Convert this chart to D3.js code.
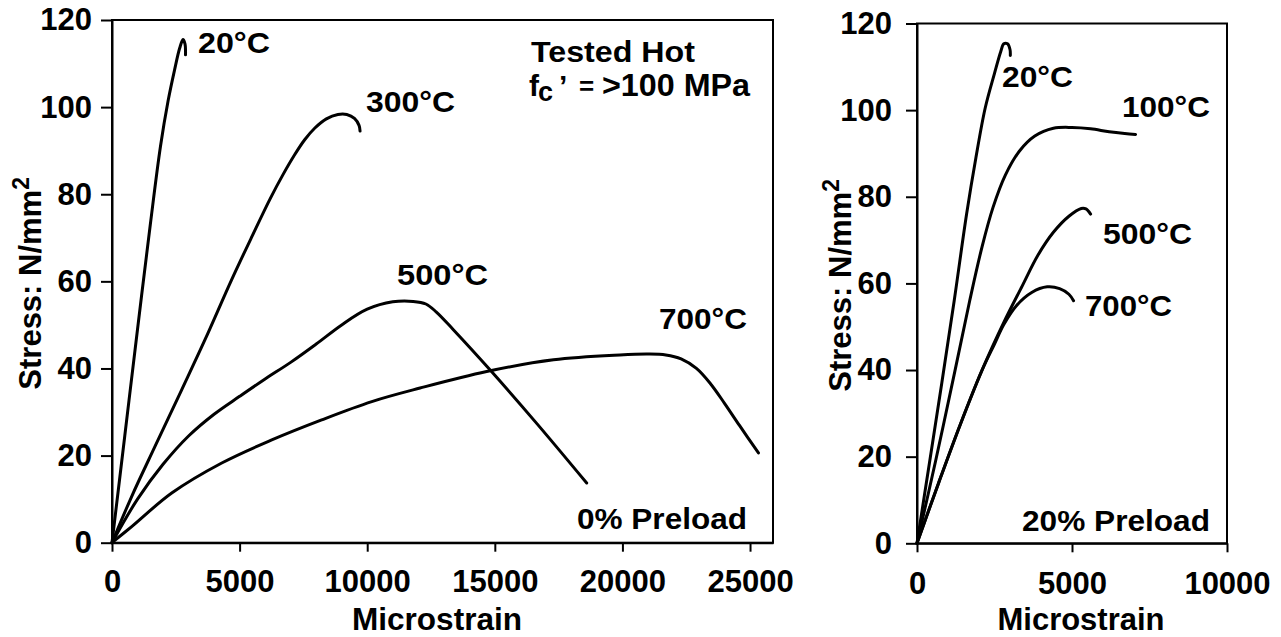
<!DOCTYPE html>
<html>
<head>
<meta charset="utf-8">
<script src="https://cdn.jsdelivr.net/npm/d3@7"></script>
<style>
  body { margin: 0; background: #fff; }
  svg { display: block; }
  text { font-family: "Liberation Sans", Arial, sans-serif; font-weight: bold; fill: #000; }
</style>
</head>
<body>
<svg id="chart" width="1281" height="637"></svg>
<script>
// ---------- data ----------
const yTicks = [0, 20, 40, 60, 80, 100, 120];
const xTicksLeft = [0, 5000, 10000, 15000, 20000, 25000];
const xTicksRight = [0, 5000, 10000];
const xLabel = "Microstrain";
const yLabel = "Stress: N/mm";
const yLabelSup = "2";

// 0% preload, tested hot (microstrain, stress N/mm²)
const left20C = [[0,0],[500,24.5],[1000,49],[1500,73],[1900,91],[2200,101.5],[2450,108.5],[2650,113.5],[2780,115.5],[2860,114.5],[2880,112]];
const left300C = [[0,0],[770,10.6],[1685,22.1],[2730,35.1],[3644,46.6],[4690,60.4],[5500,70.5],[6200,79],[6700,84.5],[7150,89],[7550,92.5],[7950,95.2],[8400,97.3],[8850,98.3],[9200,98.3],[9500,97.4],[9680,95.8],[9720,94.5]];
const left500C = [[0,0],[1000,10],[2000,18],[3000,24.5],[4000,29.5],[5000,33.6],[6000,37.6],[7000,41.4],[8000,45.6],[9000,50],[10000,53.6],[11000,55.3],[11800,55.4],[12300,54.8],[12700,53],[13375,48.9],[14810,39.7],[16640,27.4],[18600,13.7]];
const left700C = [[0,0],[772,3.7],[2340,11.4],[4300,18.3],[6260,23.6],[8215,28.2],[10180,32.4],[12070,35.5],[14680,39.3],[17300,42.0],[19900,43.1],[21000,43.3],[21700,43.1],[22300,42.2],[22900,40],[23450,36.5],[24000,32],[24600,26.8],[25330,20.6]];

// 20% preload
const right20C = [[0,0],[400,18.5],[800,37],[1200,56],[1600,76],[1900,89],[2200,100.5],[2500,108.5],[2700,113.5],[2800,115.3],[2920,115.3],[3000,114],[3010,112.6]];
const right100C = [[0,0],[600,19],[1200,39],[1700,56],[2100,68.5],[2450,77.5],[2850,85],[3300,90.5],[3800,94],[4400,95.8],[5000,96],[5600,95.7],[6200,95],[6700,94.6],[7050,94.4]];
const right500C = [[0,0],[700,14],[1400,27.5],[2100,40],[2800,51],[3400,59.5],[3900,66.5],[4400,71.8],[4900,75.5],[5300,77.3],[5450,77.2],[5600,76]];
const right700C = [[0,0],[700,14],[1400,27.5],[2100,40],[2500,46],[2800,50.5],[3200,54.8],[3700,57.9],[4200,59.2],[4600,58.8],[4900,57.5],[5050,56]];

const leftCurveLabels = ["20°C", "300°C", "500°C", "700°C"];
const rightCurveLabels = ["20°C", "100°C", "500°C", "700°C"];
const leftNote = "0% Preload";
const rightNote = "20% Preload";
const titleLine1 = "Tested Hot";

// ---------- drawing ----------
const svg = d3.select("#chart");
const line = d3.line().curve(d3.curveCatmullRom.alpha(0.5));

function panel(opt) {
  const x = d3.scaleLinear().domain(opt.xDomain).range([opt.left, opt.right]);
  const y = d3.scaleLinear().domain([0, 120]).range([opt.bottom, opt.top]);
  const g = svg.append("g");

  g.append("rect")
    .attr("x", opt.left).attr("y", opt.top)
    .attr("width", opt.right - opt.left).attr("height", opt.bottom - opt.top)
    .attr("fill", "none").attr("stroke", "#000").attr("stroke-width", 2);

  const ya = g.append("g").attr("transform", `translate(${opt.left},0)`)
    .call(d3.axisLeft(y).tickValues(yTicks).tickSize(11).tickSizeOuter(0).tickPadding(opt.yPad));
  const xa = g.append("g").attr("transform", `translate(0,${opt.bottom})`)
    .call(d3.axisBottom(x).tickValues(opt.xTicks).tickSize(9).tickSizeOuter(0).tickPadding(opt.xPad).tickFormat(d3.format("d")));
  [ya, xa].forEach(a => {
    a.select(".domain").attr("stroke", "#000").attr("stroke-width", 2);
    a.selectAll(".tick line").attr("stroke", "#000").attr("stroke-width", 2);
    a.selectAll(".tick text").attr("font-size", 31).attr("font-family", null).attr("fill", "#000");
  });

  opt.series.forEach(s => {
    g.append("path").attr("d", line(s.map(d => [x(d[0]), y(d[1])])))
      .attr("fill", "none").attr("stroke", "#000").attr("stroke-width", 3)
      .attr("stroke-linejoin", "round").attr("stroke-linecap", "round");
  });

  g.append("text").attr("x", opt.xLabelX).attr("y", 630)
    .attr("text-anchor", "middle").attr("font-size", 31)
    .attr("textLength", opt.xLabelW).attr("lengthAdjust", "spacingAndGlyphs")
    .text(xLabel);
  const yl = g.append("text")
    .attr("transform", `translate(${opt.yLabelX},${(opt.top + opt.bottom) / 2 + 2}) rotate(-90)`)
    .attr("text-anchor", "middle").attr("font-size", 31);
  yl.append("tspan").text(yLabel);
  yl.append("tspan").attr("dy", -12).attr("font-size", 23).text(yLabelSup);

  opt.labels.forEach(l => {
    g.append("text").attr("x", l.x).attr("y", l.y).attr("font-size", 30)
      .attr("textLength", l.w).attr("lengthAdjust", "spacingAndGlyphs").text(l.t);
  });
  return g;
}

panel({
  left: 112, right: 773, top: 20, bottom: 542.7,
  xDomain: [0, 25900], xTicks: xTicksLeft, yPad: 9, xPad: 18,
  series: [left20C, left300C, left500C, left700C],
  xLabelX: 437, xLabelW: 170, yLabelX: 41,
  labels: [
    {t: leftCurveLabels[0], x: 198, y: 53, w: 72},
    {t: leftCurveLabels[1], x: 366, y: 112, w: 89},
    {t: leftCurveLabels[2], x: 397, y: 285, w: 91},
    {t: leftCurveLabels[3], x: 659, y: 329, w: 88},
    {t: titleLine1, x: 531, y: 62, w: 164},
    {t: leftNote, x: 577, y: 529, w: 170}
  ]
});

// second title line with subscript
const t2 = svg.append("text").attr("y", 96).attr("font-size", 30);
t2.append("tspan").attr("x", 529).text("f");
t2.append("tspan").attr("x", 538).attr("dy", 5).attr("font-size", 27).text("c");
t2.append("tspan").attr("x", 559).attr("dy", -5).attr("font-size", 30).text("’");
t2.append("tspan").attr("x", 579).attr("font-size", 26).attr("dy", -1).text("=");
t2.append("tspan").attr("x", 602).attr("dy", 1).attr("font-size", 31)
  .attr("textLength", 148).attr("lengthAdjust", "spacingAndGlyphs").text(">100 MPa");

panel({
  left: 917, right: 1227, top: 23.5, bottom: 543.3,
  xDomain: [0, 10000], xTicks: xTicksRight, yPad: 14, xPad: 20,
  series: [right20C, right100C, right500C, right700C],
  xLabelX: 1081, xLabelW: 167, yLabelX: 851,
  labels: [
    {t: rightCurveLabels[0], x: 1002, y: 87, w: 71},
    {t: rightCurveLabels[1], x: 1122, y: 117, w: 88},
    {t: rightCurveLabels[2], x: 1103, y: 244, w: 89},
    {t: rightCurveLabels[3], x: 1085, y: 316, w: 87},
    {t: rightNote, x: 1022, y: 531, w: 188}
  ]
});
</script>
</body>
</html>
